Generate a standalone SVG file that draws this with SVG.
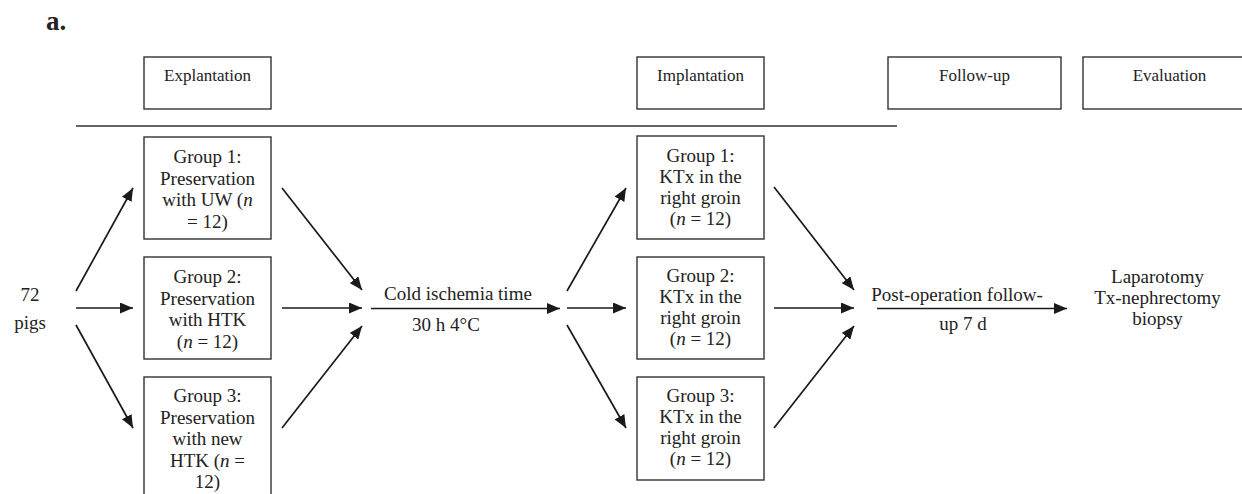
<svg xmlns="http://www.w3.org/2000/svg" width="1242" height="494" viewBox="0 0 1242 494">
<style>
.bx{fill:#fff;stroke:#333;stroke-width:1.4}
.t{font-family:"Liberation Serif","Times New Roman",serif;font-size:19px;fill:#222;text-anchor:middle}
.h{font-family:"Liberation Serif","Times New Roman",serif;font-size:17px;fill:#222;text-anchor:middle}
.ar{stroke:#1a1a1a;stroke-width:1.7;fill:none;marker-end:url(#ah)}
.ln{stroke:#333;stroke-width:1.4;fill:none}
</style>
<defs>
<marker id="ah" markerUnits="userSpaceOnUse" markerWidth="13" markerHeight="11" refX="13" refY="5.5" orient="auto">
<path d="M0,0 L13,5.5 L0,11 z" fill="#1a1a1a"/>
</marker>
</defs>
<rect width="1242" height="494" fill="#fff"/>
<text x="46" y="30" style="font-family:'Liberation Serif','Times New Roman',serif;font-size:27px;font-weight:bold;fill:#222">a.</text>

<g id="hdr-explantation"><rect class="bx" x="144" y="57" width="127" height="52"/><text class="h" x="207.5" y="81">Explantation</text></g>
<g id="hdr-implantation"><rect class="bx" x="637" y="57" width="127" height="52"/><text class="h" x="700.5" y="81">Implantation</text></g>
<g id="hdr-followup"><rect class="bx" x="888" y="57" width="173" height="52"/><text class="h" x="974.5" y="81">Follow-up</text></g>
<g id="hdr-evaluation"><rect class="bx" x="1083" y="57" width="173" height="52"/><text class="h" x="1169.5" y="81">Evaluation</text></g>

<line class="ln" x1="76" y1="126" x2="897" y2="126"/>

<g id="pigs"><text class="t" x="30" y="301">72</text><text class="t" x="30" y="329">pigs</text></g>

<g id="exp-g1"><rect class="bx" x="144" y="137" width="127" height="102"/>
<text class="t" x="207.5" y="163">Group 1:</text>
<text class="t" x="207.5" y="184.5">Preservation</text>
<text class="t" x="207.5" y="206">with UW (<tspan font-style="italic">n</tspan></text>
<text class="t" x="207.5" y="227.5">= 12)</text></g>

<g id="exp-g2"><rect class="bx" x="144" y="257" width="127" height="102"/>
<text class="t" x="207.5" y="283">Group 2:</text>
<text class="t" x="207.5" y="304.5">Preservation</text>
<text class="t" x="207.5" y="326">with HTK</text>
<text class="t" x="207.5" y="347.5">(<tspan font-style="italic">n</tspan> = 12)</text></g>

<g id="exp-g3"><rect class="bx" x="144" y="377" width="127" height="130"/>
<text class="t" x="207.5" y="402">Group 3:</text>
<text class="t" x="207.5" y="423.5">Preservation</text>
<text class="t" x="207.5" y="445">with new</text>
<text class="t" x="207.5" y="466.5">HTK (<tspan font-style="italic">n</tspan> =</text>
<text class="t" x="207.5" y="488">12)</text></g>

<g id="imp-g1"><rect class="bx" x="637" y="136" width="127" height="103"/>
<text class="t" x="700.5" y="162">Group 1:</text>
<text class="t" x="700.5" y="183">KTx in the</text>
<text class="t" x="700.5" y="204">right groin</text>
<text class="t" x="700.5" y="225">(<tspan font-style="italic">n</tspan> = 12)</text></g>

<g id="imp-g2"><rect class="bx" x="637" y="257" width="127" height="102"/>
<text class="t" x="700.5" y="282">Group 2:</text>
<text class="t" x="700.5" y="303">KTx in the</text>
<text class="t" x="700.5" y="324">right groin</text>
<text class="t" x="700.5" y="345">(<tspan font-style="italic">n</tspan> = 12)</text></g>

<g id="imp-g3"><rect class="bx" x="637" y="377" width="127" height="103"/>
<text class="t" x="700.5" y="402">Group 3:</text>
<text class="t" x="700.5" y="423">KTx in the</text>
<text class="t" x="700.5" y="444">right groin</text>
<text class="t" x="700.5" y="465">(<tspan font-style="italic">n</tspan> = 12)</text></g>

<g id="cold"><text class="t" x="458" y="300">Cold ischemia time</text><text class="t" x="446" y="331">30 h 4°C</text></g>
<g id="post"><text class="t" x="957" y="301">Post-operation follow-</text><text class="t" x="963" y="330">up 7 d</text></g>
<g id="eval"><text class="t" x="1157.5" y="283">Laparotomy</text><text class="t" x="1157.5" y="304">Tx-nephrectomy</text><text class="t" x="1157.5" y="324.5">biopsy</text></g>

<g id="connectors">
<line class="ar" x1="76" y1="291" x2="133" y2="188"/>
<line class="ar" x1="76" y1="308" x2="133" y2="308"/>
<line class="ar" x1="76" y1="325" x2="133" y2="428"/>
<line class="ar" x1="282" y1="188" x2="362" y2="290"/>
<line class="ar" x1="282" y1="308" x2="362" y2="308"/>
<line class="ar" x1="282" y1="428" x2="362" y2="326"/>
<line class="ar" x1="371" y1="308.5" x2="560" y2="308.5"/>
<line class="ar" x1="567" y1="291" x2="626" y2="188"/>
<line class="ar" x1="567" y1="308" x2="626" y2="308"/>
<line class="ar" x1="567" y1="325" x2="626" y2="428"/>
<line class="ar" x1="774" y1="187" x2="854" y2="290"/>
<line class="ar" x1="774" y1="308" x2="854" y2="308"/>
<line class="ar" x1="774" y1="428" x2="854" y2="326"/>
<line class="ar" x1="877" y1="308.5" x2="1067" y2="308.5"/>
</g>
</svg>
